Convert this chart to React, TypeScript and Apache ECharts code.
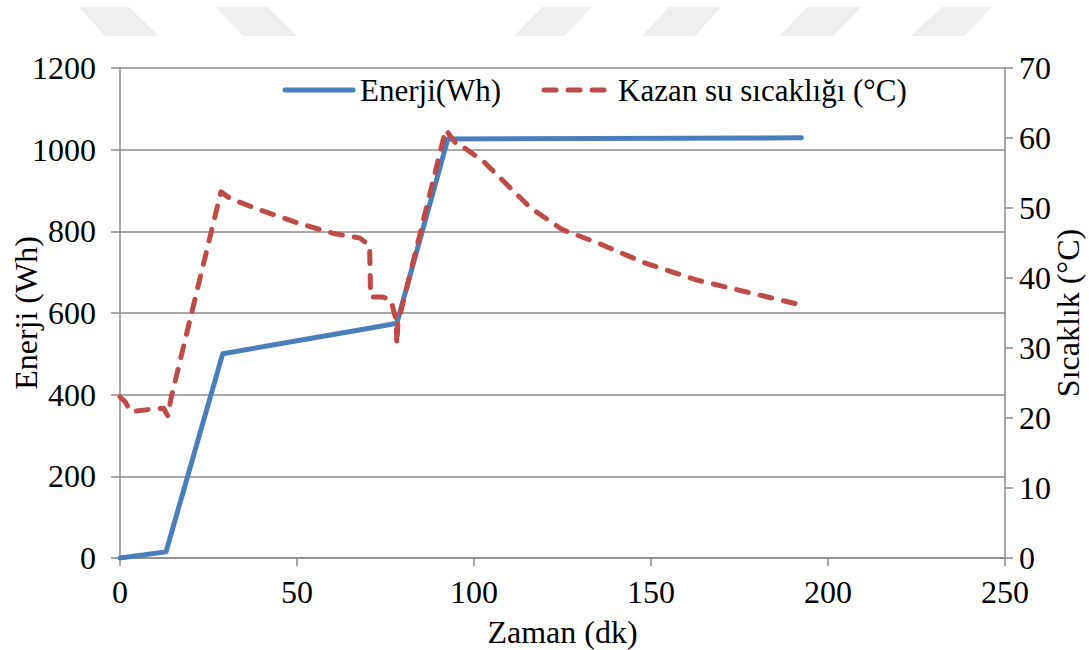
import React, { useEffect, useRef } from "react";
import * as echarts from "echarts";

const xTicks = [0, 50, 100, 150, 200, 250];
const energyTime = [0, 13, 29, 50, 70, 78.2, 92.6, 192.5];
const energyWh = [0, 15, 500, 532, 562, 575, 1026, 1029];

const tempTime = [
  0, 1.5, 3, 8, 12.3, 13.5, 14.5, 28.5, 31, 38, 50, 60, 67.8, 70.5, 70.8, 74, 76.5,
  78, 78.2, 78.5, 92, 95.2, 97, 103, 108, 116, 125, 135, 148, 163, 177, 192,
];
const tempC = [
  23, 22.3, 20.9, 21.2, 21.4, 20.3, 23, 52.3, 51.4, 50, 47.9, 46.4, 45.7, 44.6, 37.3,
  37.3, 36.9, 34, 30.5, 33.5, 61.2, 59, 58.7, 56.5, 54, 50, 46.9, 45, 42.2, 39.7, 38,
  36.2,
];

const seriesNames = ["Enerji(Wh)", "Kazan su sıcaklığı (°C)"];
const FONT = "Liberation Serif";
const AXIS_GRAY = "#8a8a8a";
const BLUE = "#4a7ebb";
const RED = "#be4b48";
const FS = 32;

const watermark: number[][][] = [
  [[79, 7], [129, 7], [159, 36], [105, 36]],
  [[216, 7], [267, 7], [297, 36], [243, 36]],
  [[542, 7], [592, 7], [564, 36], [514, 36]],
  [[669, 7], [721, 7], [695, 36], [642, 36]],
  [[807, 7], [861, 7], [833, 36], [780, 36]],
  [[942, 7], [992, 7], [964, 36], [911, 36]],
];

export default function App() {
  const ref = useRef<HTMLDivElement>(null);
  useEffect(() => {
    if (!ref.current) return;
    const chart = echarts.init(ref.current, undefined, { renderer: "svg" });
    const energyData = energyTime.map((t, i) => [t, energyWh[i]]);
    const tempData = tempTime.map((t, i) => [t, tempC[i]]);
    const labelStyle = { fontFamily: FONT, fontSize: FS, color: "#000" };
    const tickLabel = (margin: number) => ({
      ...labelStyle,
      margin,
      formatter: (v: number) => String(v),
    });
    const legendGraphic = [
      {
        type: "line",
        shape: { x1: 285, y1: 90, x2: 353, y2: 90 },
        style: { stroke: BLUE, lineWidth: 5, lineCap: "round" },
      },
      {
        type: "text",
        x: 360,
        y: 90,
        style: {
          text: seriesNames[0],
          fontFamily: FONT,
          fontSize: 31,
          fill: "#000",
          verticalAlign: "middle",
        },
      },
      {
        type: "line",
        shape: { x1: 544, y1: 90, x2: 610, y2: 90 },
        style: { stroke: RED, lineWidth: 5, lineCap: "round", lineDash: [12, 12] },
      },
      {
        type: "text",
        x: 618,
        y: 90,
        style: {
          text: seriesNames[1],
          fontFamily: FONT,
          fontSize: 31,
          fill: "#000",
          verticalAlign: "middle",
        },
      },
    ];
    chart.setOption({
      animation: false,
      backgroundColor: "#ffffff",
      textStyle: { fontFamily: FONT },
      grid: {
        left: 120,
        right: 84,
        top: 68,
        bottom: 92,
        containLabel: false,
        outerBoundsMode: "none",
      },
      graphic: [
        ...watermark.map((pts) => ({
          type: "polygon",
          shape: { points: pts },
          style: { fill: "#efefef" },
          z: -1,
        })),
        ...legendGraphic,
      ],
      xAxis: {
        type: "value",
        min: xTicks[0],
        max: xTicks[xTicks.length - 1],
        interval: 50,
        name: "Zaman (dk)",
        nameLocation: "middle",
        nameGap: 58,
        nameMoveOverlap: false,
        nameTextStyle: labelStyle,
        axisLine: { show: true, lineStyle: { color: AXIS_GRAY, width: 1.5 } },
        axisTick: { show: true, length: 8, lineStyle: { color: AXIS_GRAY, width: 1.5 } },
        axisLabel: tickLabel(18),
        splitLine: { show: false },
      },
      yAxis: [
        {
          type: "value",
          min: 0,
          max: 1200,
          interval: 200,
          name: "Enerji (Wh)",
          nameLocation: "middle",
          nameRotate: 90,
          nameGap: 78,
          nameMoveOverlap: false,
          nameTextStyle: labelStyle,
          axisLine: { show: true, lineStyle: { color: AXIS_GRAY, width: 1.5 } },
          axisTick: { show: true, length: 9, lineStyle: { color: AXIS_GRAY, width: 1.5 } },
          axisLabel: tickLabel(24),
          splitLine: { show: true, lineStyle: { color: AXIS_GRAY, width: 1.5 } },
        },
        {
          type: "value",
          min: 0,
          max: 70,
          interval: 10,
          position: "right",
          name: "Sıcaklık (°C)",
          nameLocation: "middle",
          nameRotate: 90,
          nameGap: 47,
          nameMoveOverlap: false,
          nameTextStyle: { ...labelStyle, lineHeight: 32 },
          axisLine: { show: true, lineStyle: { color: AXIS_GRAY, width: 1.5 } },
          axisTick: { show: true, length: 8, lineStyle: { color: AXIS_GRAY, width: 1.5 } },
          axisLabel: tickLabel(14),
          splitLine: { show: false },
        },
      ],
      series: [
        {
          name: seriesNames[0],
          type: "line",
          yAxisIndex: 0,
          data: energyData,
          symbol: "none",
          lineStyle: { color: BLUE, width: 5, cap: "round", join: "round" },
          itemStyle: { color: BLUE },
          z: 2,
        },
        {
          name: seriesNames[1],
          type: "line",
          yAxisIndex: 1,
          data: tempData,
          symbol: "none",
          lineStyle: {
            color: RED,
            width: 5,
            type: [12, 12],
            cap: "round",
            join: "round",
          },
          itemStyle: { color: RED },
          z: 3,
        },
      ],
    });
    return () => chart.dispose();
  }, []);
  return (
    <div
      ref={ref}
      style={{ position: "fixed", left: 0, top: 0, width: 1089, height: 650 }}
    />
  );
}
